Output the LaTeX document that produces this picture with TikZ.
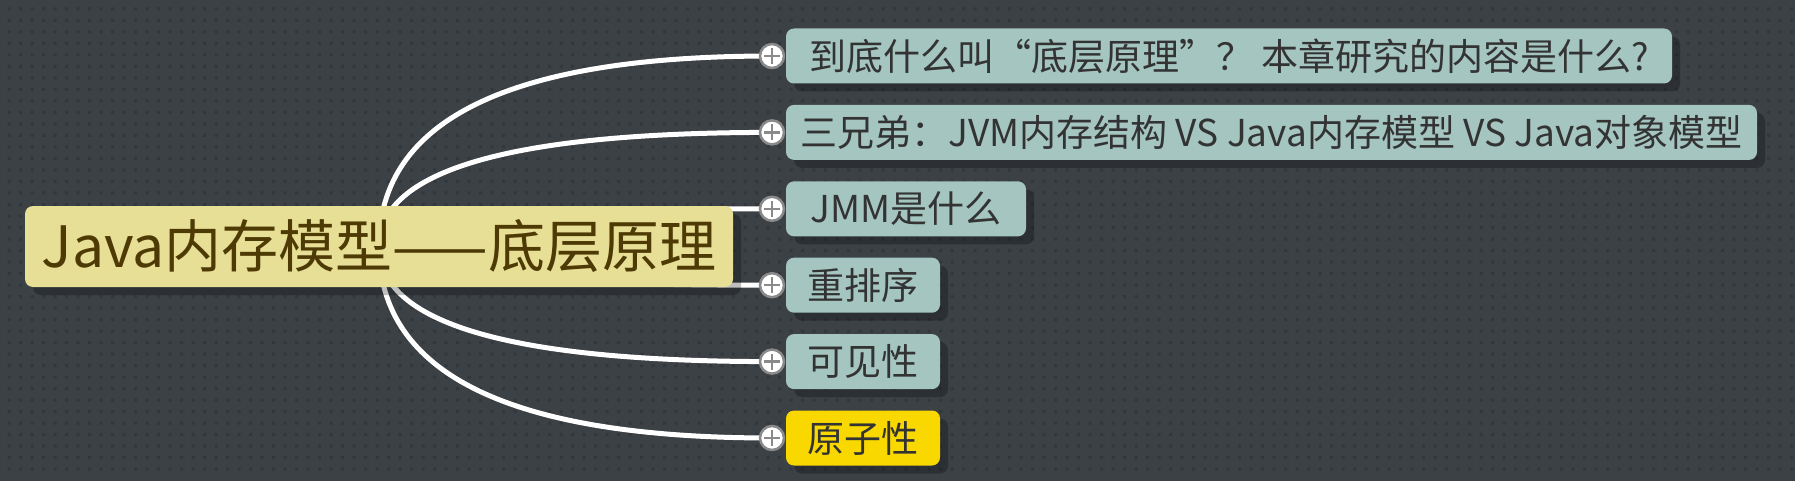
\documentclass[tikz,border=0pt]{standalone}
\usepackage{fontspec}
\newfontfamily\cjk{Noto Sans CJK SC}
\usetikzlibrary{shadows,calc}
\definecolor{bgc}{HTML}{3C4146}
\definecolor{dotc}{HTML}{33373B}
\definecolor{rootfill}{HTML}{E7DF95}
\definecolor{roottext}{HTML}{4D3A05}
\definecolor{childfill}{HTML}{A4C5C0}
\definecolor{yellowfill}{HTML}{F9D800}
\definecolor{childtext}{HTML}{333333}
\definecolor{plusgray}{HTML}{8A8A8A}
\pgfdeclarelayer{bglayer}
\pgfdeclarelayer{linelayer}
\pgfsetlayers{bglayer,linelayer,main}
\tikzset{
  boxshadow/.style={drop shadow={shadow xshift=8pt,shadow yshift=-8pt,opacity=0.25,fill=black}},
  rootbox/.style={rectangle, rounded corners=8pt, fill=rootfill, draw=none, inner sep=0pt,
    minimum width=708pt, minimum height=81pt, boxshadow,
    font=\cjk\fontsize{57}{62}\selectfont, text=roottext},
  childbox/.style={rectangle, rounded corners=8pt, fill=childfill, draw=none, inner sep=0pt,
    minimum height=55pt, boxshadow,
    font=\cjk\fontsize{37}{42}\selectfont, text=childtext},
  yellowbox/.style={childbox, fill=yellowfill},
  plusnode/.style={circle, minimum size=24pt, inner sep=0pt, fill=white, draw=plusgray, line width=2.5pt,
    path picture={
      \draw[plusgray, line width=2.5pt]
        ([xshift=-8pt]path picture bounding box.center) -- ([xshift=8pt]path picture bounding box.center)
        ([yshift=-8pt]path picture bounding box.center) -- ([yshift=8pt]path picture bounding box.center);
    }},
  conn/.style={draw=white, line width=5pt}
}
\begin{document}
\begin{tikzpicture}[x=1pt,y=-1pt]
\useasboundingbox (0,0) rectangle (1795,481);
\begin{pgfonlayer}{bglayer}
\fill[bgc] (0,0) rectangle (1795,481);
\fill[dotc] \foreach \i in {0,...,155} { \foreach \j in {0,...,40} { ({7.5+\i*11.5},{7.5+\j*11.5}) rectangle ++(3,3) } };
\end{pgfonlayer}

\node[rootbox] (root) at (379,246.5) {Java内存模型——底层原理};

\node[childbox, minimum width=886pt] (c1) at (1229,56) {到底什么叫“底层原理”？ 本章研究的内容是什么?};
\node[childbox, minimum width=971pt] (c2) at (1271.5,132.4) {三兄弟：JVM内存结构 VS Java内存模型 VS Java对象模型};
\node[childbox, minimum width=240pt] (c3) at (906,208.8) {JMM是什么};
\node[childbox, minimum width=154pt] (c4) at (863,285.2) {重排序};
\node[childbox, minimum width=154pt] (c5) at (863,361.6) {可见性};
\node[yellowbox, minimum width=154pt] (c6) at (863,438) {原子性};

\foreach \k/\y in {1/56,2/132.4,3/208.8,4/285.2,5/361.6,6/438} {
  \node[plusnode] (p\k) at (772,\y) {};
}

\begin{pgfonlayer}{linelayer}
\foreach \k in {1,...,6} {
  \draw[conn] (root.center)
    .. controls ($(root.center)!2/3!(root.center |- p\k.center)$)
            and ($(p\k.center)!2/3!(root.center |- p\k.center)$) .. (p\k.center);
}
\end{pgfonlayer}
\end{tikzpicture}
\end{document}
